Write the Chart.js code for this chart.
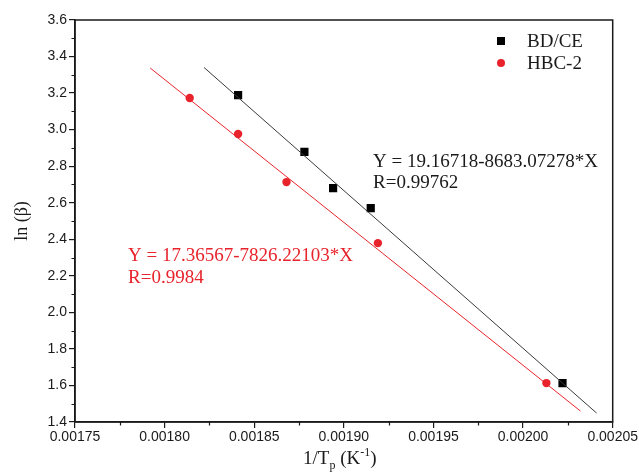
<!DOCTYPE html>
<html>
<head>
<meta charset="utf-8">
<script src="https://cdn.jsdelivr.net/npm/chart.js@4/dist/chart.umd.min.js"></script>
<style>
  html, body { margin: 0; padding: 0; background: #fff; }
  #wrap { width: 639px; height: 476px; }
</style>
</head>
<body>
<div id="wrap"><canvas id="kissinger"></canvas></div>
<script>
// ---- data ----
const bdceX = [0.001841, 0.001878, 0.001894, 0.001915, 0.002022];
const bdceY = [3.189, 2.878, 2.680, 2.571, 1.613];
const hbcX = [0.001814, 0.001841, 0.001868, 0.001919, 0.002013];
const hbcY = [3.173, 2.976, 2.713, 2.379, 1.613];

// fitted lines (end points)
const bdceFitX = [0.001822, 0.002041];
const bdceFitY = [3.340, 1.449];
const hbcFitX = [0.001792, 0.002032];
const hbcFitY = [3.337, 1.460];

const seriesNames = ['BD/CE', 'HBC-2'];
const bdceFitText = ['Y = 19.16718-8683.07278*X', 'R=0.99762'];
const hbcFitText = ['Y = 17.36567-7826.22103*X', 'R=0.9984'];

const xMin = 0.00175, xMax = 0.00205, xStep = 0.00005;
const yMin = 1.4, yMax = 3.6, yStep = 0.2;

const RED = '#e8232b';
const INK = '#1a1a1a';
const SERIF = '"Liberation Serif", "Times New Roman", serif';
const SANS = '"Liberation Sans", Arial, sans-serif';

function pts(xs, ys) { return xs.map((x, i) => ({ x: x, y: ys[i] })); }

// ========== frame, minor ticks, legend, texts ==========
const decoPlugin = {
    id: 'deco',
    afterDraw(chart) {
        const ctx = chart.ctx;
        const a = chart.chartArea;
        const xs = chart.scales.x, ys = chart.scales.y;
        ctx.save();
        // frame
        ctx.strokeStyle = INK;
        ctx.lineWidth = 1.5;
        ctx.strokeRect(a.left, a.top, a.right - a.left, a.bottom - a.top);

        // minor ticks
        ctx.lineWidth = 1.2;
        ctx.beginPath();
        for (let v = xMin + xStep / 2; v < xMax; v += xStep) {
            const px = Math.round(xs.getPixelForValue(v)) + 0.5;
            ctx.moveTo(px, a.bottom); ctx.lineTo(px, a.bottom + 3.5);
        }
        for (let v = yMin + yStep / 2; v < yMax; v += yStep) {
            const py = Math.round(ys.getPixelForValue(v)) + 0.5;
            ctx.moveTo(a.left, py); ctx.lineTo(a.left - 3.5, py);
        }
        ctx.stroke();

        // legend
        const lx = 501, ly = [41, 63];
        ctx.fillStyle = '#000';
        ctx.fillRect(lx - 4, ly[0] - 4, 8, 8);
        ctx.fillStyle = RED;
        ctx.beginPath(); ctx.arc(lx, ly[1], 4, 0, Math.PI * 2); ctx.fill();
        ctx.font = '19px ' + SERIF;
        ctx.textBaseline = 'middle';
        ctx.textAlign = 'left';
        ctx.fillStyle = INK;
        ctx.fillText(seriesNames[0], 527, ly[0] + 1);
        ctx.fillText(seriesNames[1], 527, ly[1] + 1);

        // fit equations
        ctx.textBaseline = 'alphabetic';
        ctx.fillStyle = INK;
        ctx.fillText(bdceFitText[0], 373, 167);
        ctx.fillText(bdceFitText[1], 373, 188);
        ctx.fillStyle = RED;
        ctx.fillText(hbcFitText[0], 128, 261);
        ctx.fillText(hbcFitText[1], 128, 283);

        // x axis title: 1/Tp (K-1)
        ctx.fillStyle = INK;
        const cx = (a.left + a.right) / 2 - 4;
        const base = 464;
        const parts = [
            { t: '1/T', f: '19px ' + SERIF, dy: 0 },
            { t: 'p', f: '12px ' + SERIF, dy: 5 },
            { t: ' (K', f: '19px ' + SERIF, dy: 0 },
            { t: '-1', f: '12px ' + SERIF, dy: -8 },
            { t: ')', f: '19px ' + SERIF, dy: 0 }
        ];
        let w = 0;
        parts.forEach(p => { ctx.font = p.f; p.w = ctx.measureText(p.t).width; w += p.w; });
        let x = cx - w / 2;
        parts.forEach(p => { ctx.font = p.f; ctx.fillText(p.t, x, base + p.dy); x += p.w; });
        ctx.restore();
    }
};

new Chart(document.getElementById('kissinger'), {
    type: 'scatter',
    data: {
        datasets: [
            { label: 'BD/CE fit', data: pts(bdceFitX, bdceFitY), showLine: true, borderColor: '#3a3a3a', borderWidth: 1, pointRadius: 0 },
            { label: 'HBC-2 fit', data: pts(hbcFitX, hbcFitY), showLine: true, borderColor: RED, borderWidth: 1, pointRadius: 0 },
            { label: seriesNames[0], data: pts(bdceX, bdceY), pointStyle: 'rect', pointRadius: 5.8, backgroundColor: '#000', borderColor: '#000', borderWidth: 0 },
            { label: seriesNames[1], data: pts(hbcX, hbcY), pointStyle: 'circle', pointRadius: 4.2, backgroundColor: RED, borderColor: RED, borderWidth: 0 }
        ]
    },
    options: {
        responsive: true,
        maintainAspectRatio: false,
        animation: false,
        layout: { padding: { top: 20, right: 25, left: 0, bottom: 0 } },
        plugins: { legend: { display: false }, tooltip: { enabled: false } },
        scales: {
            x: {
                type: 'linear', min: xMin, max: xMax,
                afterFit: s => { s.height = 54; },
                border: { color: INK, width: 1.5 },
                grid: { drawOnChartArea: false, tickLength: 6, color: INK, lineWidth: 1.2 },
                ticks: { stepSize: xStep, padding: 1, color: INK, font: { family: SANS, size: 14 }, maxRotation: 0,
                         callback: v => v.toFixed(5) }
            },
            y: {
                type: 'linear', min: yMin, max: yMax,
                afterFit: s => { s.width = 75; },
                border: { color: INK, width: 1.5 },
                grid: { drawOnChartArea: false, tickLength: 6, color: INK, lineWidth: 1.2 },
                ticks: { stepSize: yStep, padding: 2, color: INK, font: { family: SANS, size: 14 },
                         callback: v => v.toFixed(1) },
                title: { display: true, text: 'ln (β)', color: INK, font: { family: SERIF, size: 18 }, padding: { top: 11, bottom: 0 } }
            }
        }
    },
    plugins: [decoPlugin]
});
</script>
</body>
</html>
